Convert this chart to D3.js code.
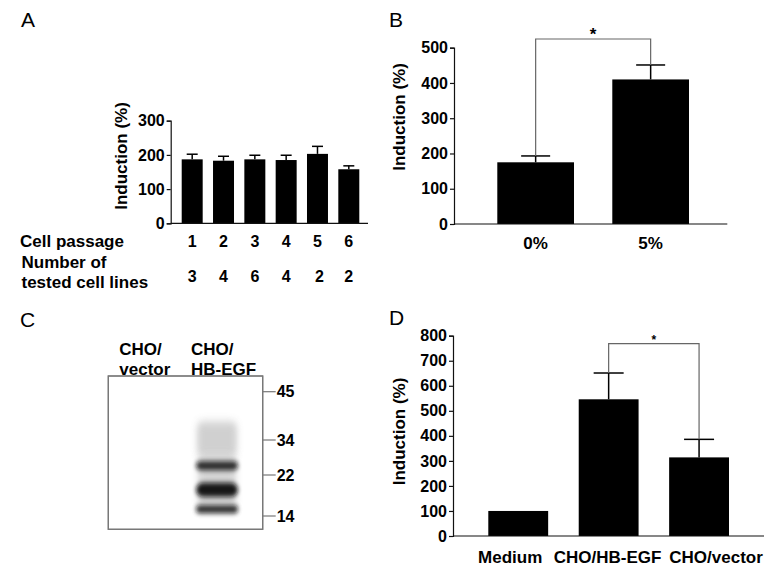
<!DOCTYPE html>
<html>
<head>
<meta charset="utf-8">
<script src="https://cdn.jsdelivr.net/npm/d3@7"></script>
<style>
  html, body { margin: 0; padding: 0; background: #fff; }
  svg { display: block; }
  text { font-family: "Liberation Sans", Arial, Helvetica, sans-serif; fill: #000; }
</style>
</head>
<body>
<svg id="fig" width="768" height="572"></svg>
<script>
// ---------- DATA ----------
// Panel A
const passages = ["1", "2", "3", "4", "5", "6"];
const passageMeans = [187, 183, 187, 185, 203, 158];
const passageErrTop = [202, 196, 199, 199, 225, 168];
const testedCellLines = ["3", "4", "6", "4", "2", "2"];
const ticksA = [0, 100, 200, 300];

// Panel B
const serumCats = ["0%", "5%"];
const serumMeans = [175, 410];
const serumErrTop = [193, 451];
const ticksB = [0, 100, 200, 300, 400, 500];

// Panel C (western blot)
const laneLabels = [["CHO/", "vector"], ["CHO/", "HB-EGF"]];
const markers = [45, 34, 22, 14];          // kDa
const bandKDa = [25.2, 19.1, 15.3];         // dark bands in HB-EGF lane
const bandIntensity = [0.85, 0.95, 0.85];
const smearKDa = [38.2, 28.3];              // faint smear range

// Panel D
const condCats = ["Medium", "CHO/HB-EGF", "CHO/vector"];
const condMeans = [100, 546, 314];
const condErrTop = [100, 651, 386];
const ticksD = [0, 100, 200, 300, 400, 500, 600, 700, 800];

// ---------- DRAWING ----------
const svg = d3.select("#fig");
const FONT_B = "bold";

function panelLetter(txt, x, y) {
  svg.append("text").attr("x", x).attr("y", y)
    .attr("font-size", 21).text(txt);
}

function yAxis(g, y, ticks, x0) {
  const ax = g.append("g").attr("transform", `translate(${x0},0)`)
    .call(d3.axisLeft(y).tickValues(ticks).tickSize(4).tickPadding(2).tickFormat(d3.format("d")));
  ax.select(".domain").attr("stroke", "#111").attr("stroke-width", 1.2);
  ax.selectAll(".tick line").attr("stroke", "#111").attr("stroke-width", 1.2);
  ax.selectAll(".tick text").attr("font-size", 16).attr("font-weight", FONT_B)
    .attr("fill", "#000").attr("font-family", "Liberation Sans, Arial, sans-serif");
  return ax;
}

function yLabel(g, cx, cy) {
  g.append("text").attr("transform", `translate(${cx},${cy}) rotate(-90)`)
    .attr("text-anchor", "middle").attr("dominant-baseline", "central")
    .attr("font-size", 17).attr("font-weight", FONT_B).text("Induction (%)");
}

function bars(g, cats, means, errTop, x, y, capW) {
  g.selectAll(null).data(cats).enter().append("rect")
    .attr("x", d => x(d)).attr("width", x.bandwidth())
    .attr("y", (d, i) => y(means[i])).attr("height", (d, i) => y(0) - y(means[i]))
    .attr("fill", "#000");
  const e = g.selectAll(null).data(cats).enter().filter((d, i) => errTop[i] > means[i]).append("g");
  e.append("line")
    .attr("x1", d => x(d) + x.bandwidth() / 2).attr("x2", d => x(d) + x.bandwidth() / 2)
    .attr("y1", d => y(means[cats.indexOf(d)])).attr("y2", d => y(errTop[cats.indexOf(d)]))
    .attr("stroke", "#000").attr("stroke-width", 1.5);
  e.append("line")
    .attr("x1", d => x(d) + x.bandwidth() / 2 - capW / 2).attr("x2", d => x(d) + x.bandwidth() / 2 + capW / 2)
    .attr("y1", d => y(errTop[cats.indexOf(d)])).attr("y2", d => y(errTop[cats.indexOf(d)]))
    .attr("stroke", "#000").attr("stroke-width", 1.5);
}

function bracket(g, xa, xb, ya, yb, ytop, starSize, starDy) {
  g.append("path")
    .attr("d", `M${xa},${ya}V${ytop}H${xb}V${yb}`)
    .attr("fill", "none").attr("stroke", "#666").attr("stroke-width", 1.2);
  g.append("text").attr("x", (xa + xb) / 2).attr("y", ytop - starDy)
    .attr("text-anchor", "middle").attr("font-size", starSize).attr("font-weight", FONT_B).text("*");
}

// ----- Panel A -----
panelLetter("A", 21, 27);
{
  const g = svg.append("g");
  const y = d3.scaleLinear().domain([0, 300]).range([223.3, 120.7]);
  const x = d3.scaleBand().domain(passages).range([181.7, 359.3]).paddingInner(0.33).paddingOuter(0);
  bars(g, passages, passageMeans, passageErrTop, x, y, 11);
  g.append("line").attr("x1", 170.7).attr("x2", 368).attr("y1", y(0)).attr("y2", y(0))
    .attr("stroke", "#111").attr("stroke-width", 1.2);
  yAxis(g, y, ticksA, 170.7);
  yLabel(g, 121.5, 156);
  g.append("text").attr("x", 20).attr("y", 247).attr("font-size", 17).attr("font-weight", FONT_B).text("Cell passage");
  g.append("text").attr("x", 21.5).attr("y", 268).attr("font-size", 17).attr("font-weight", FONT_B).text("Number of");
  g.append("text").attr("x", 21.5).attr("y", 288).attr("font-size", 17).attr("font-weight", FONT_B).text("tested cell lines");
  g.selectAll(null).data(passages).enter().append("text")
    .attr("x", d => x(d) + x.bandwidth() / 2).attr("y", 247)
    .attr("text-anchor", "middle").attr("font-size", 16).attr("font-weight", FONT_B).text(d => d);
  g.selectAll(null).data(testedCellLines).enter().append("text")
    .attr("x", (d, i) => x(passages[i]) + x.bandwidth() / 2 + (i === 4 ? 2 : 0)).attr("y", 282)
    .attr("text-anchor", "middle").attr("font-size", 16).attr("font-weight", FONT_B).text(d => d);
}

// ----- Panel B -----
panelLetter("B", 389, 27);
{
  const g = svg.append("g");
  const y = d3.scaleLinear().domain([0, 500]).range([224, 47.7]);
  const x = d3.scaleBand().domain(serumCats).range([497.3, 689]).paddingInner(0.333).paddingOuter(0);
  bars(g, serumCats, serumMeans, serumErrTop, x, y, 29);
  g.append("line").attr("x1", 454).attr("x2", 727.3).attr("y1", y(0)).attr("y2", y(0))
    .attr("stroke", "#111").attr("stroke-width", 1.2);
  yAxis(g, y, ticksB, 454);
  yLabel(g, 399, 117);
  const cx = d => x(d) + x.bandwidth() / 2;
  bracket(g, cx("0%"), cx("5%"), y(serumErrTop[0]), y(serumErrTop[1]), 39, 17, -0.5);
  g.selectAll(null).data(serumCats).enter().append("text")
    .attr("x", d => cx(d)).attr("y", 249)
    .attr("text-anchor", "middle").attr("font-size", 17).attr("font-weight", FONT_B).text(d => d);
}

// ----- Panel C -----
panelLetter("C", 20, 327);
{
  const g = svg.append("g");
  const box = { x0: 108.3, x1: 262.7, y0: 376, y1: 529.3 };
  const mw = d3.scaleLinear().domain(markers).range([391.7, 440, 475, 516]);

  const defs = svg.append("defs");
  defs.append("filter").attr("id", "blur").attr("x", "-30%").attr("y", "-60%").attr("width", "160%").attr("height", "220%")
    .append("feGaussianBlur").attr("stdDeviation", "2.2 2.4");
  defs.append("filter").attr("id", "blur2").attr("x", "-30%").attr("y", "-30%").attr("width", "160%").attr("height", "160%")
    .append("feGaussianBlur").attr("stdDeviation", "3 4");

  // lane labels
  laneLabels.forEach((lines, i) => {
    const lx = [119.3, 191][i];
    lines.forEach((t, j) => {
      g.append("text").attr("x", lx).attr("y", 355 + j * 20)
        .attr("font-size", 17).attr("font-weight", FONT_B).text(t);
    });
  });
  // blot background
  g.append("rect").attr("x", box.x0).attr("y", box.y0).attr("width", box.x1 - box.x0).attr("height", box.y1 - box.y0)
    .attr("fill", "#fff").attr("stroke", "#777").attr("stroke-width", 1.2);

  const bandG = g.append("g");
  const lx0 = 196, lx1 = 238;
  // smear
  bandG.append("rect").attr("x", lx0 + 1).attr("width", lx1 - lx0 - 2)
    .attr("y", mw(smearKDa[0])).attr("height", mw(smearKDa[1]) - mw(smearKDa[0]))
    .attr("rx", 6).attr("fill", "#999").attr("opacity", 0.45).attr("filter", "url(#blur2)");
  bandG.append("rect").attr("x", lx0 + 2).attr("width", lx1 - lx0 - 4)
    .attr("y", mw(smearKDa[1])).attr("height", mw(bandKDa[2]) - mw(smearKDa[1]))
    .attr("fill", "#aaa").attr("opacity", 0.5).attr("filter", "url(#blur2)");
  const bandH = [9, 14, 8];
  bandKDa.forEach((k, i) => {
    bandG.append("rect").attr("x", lx0).attr("width", lx1 - lx0)
      .attr("y", mw(k) - bandH[i] / 2).attr("height", bandH[i]).attr("rx", bandH[i] / 2)
      .attr("fill", "#111").attr("opacity", bandIntensity[i]).attr("filter", "url(#blur)");
  });
  // re-draw box stroke on top
  g.append("rect").attr("x", box.x0).attr("y", box.y0).attr("width", box.x1 - box.x0).attr("height", box.y1 - box.y0)
    .attr("fill", "none").attr("stroke", "#777").attr("stroke-width", 1.2);

  // marker ticks and labels
  g.selectAll(null).data(markers).enter().append("line")
    .attr("x1", box.x1).attr("x2", box.x1 + 13).attr("y1", d => mw(d)).attr("y2", d => mw(d))
    .attr("stroke", "#777").attr("stroke-width", 1.2);
  g.selectAll(null).data(markers).enter().append("text")
    .attr("x", box.x1 + 14).attr("y", d => mw(d)).attr("dy", "0.36em")
    .attr("font-size", 16).attr("font-weight", FONT_B).text(d => d);
}

// ----- Panel D -----
panelLetter("D", 389, 325);
{
  const g = svg.append("g");
  const y = d3.scaleLinear().domain([0, 800]).range([536, 335.7]);
  const x = d3.scaleBand().domain(condCats).range([488.3, 729]).paddingInner(0.338).paddingOuter(0);
  bars(g, condCats, condMeans, condErrTop, x, y, 30);
  g.append("line").attr("x1", 453).attr("x2", 764).attr("y1", y(0)).attr("y2", y(0))
    .attr("stroke", "#111").attr("stroke-width", 1.2);
  yAxis(g, y, ticksD, 453);
  yLabel(g, 399, 431.5);
  const cx = d => x(d) + x.bandwidth() / 2;
  bracket(g, cx("CHO/HB-EGF"), cx("CHO/vector"), y(condErrTop[1]), y(condErrTop[2]), 343.7, 12, 0);
  const labelShift = [-8, -1, 17];
  g.selectAll(null).data(condCats).enter().append("text")
    .attr("x", (d, i) => cx(d) + labelShift[i]).attr("y", 563)
    .attr("text-anchor", "middle").attr("font-size", 17).attr("font-weight", FONT_B).text(d => d);
}
</script>
</body>
</html>
